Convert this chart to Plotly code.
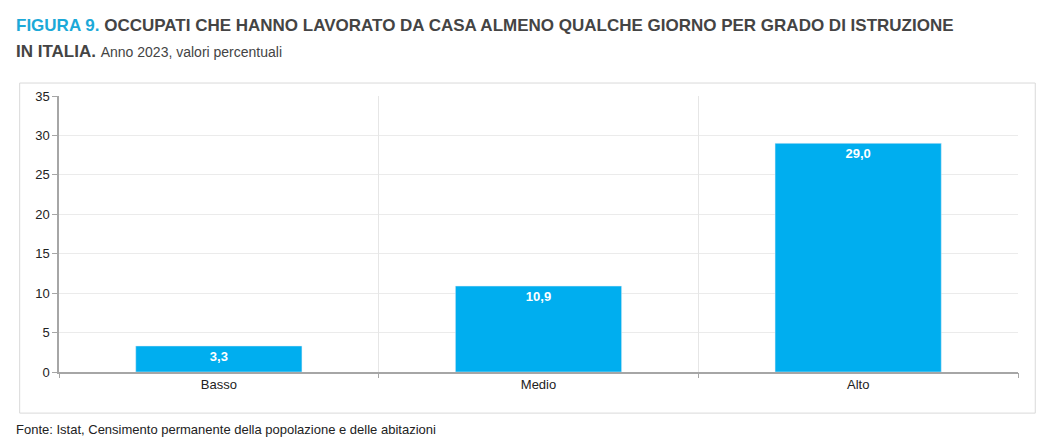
import plotly.graph_objects as go

categories = ["Basso", "Medio", "Alto"]
values = [3.3, 10.9, 29.0]
labels = ["3,3", "10,9", "29,0"]
xpos = [0, 1, 2]

fig = go.Figure()
fig.add_trace(go.Bar(x=xpos, y=values, text=labels, textposition="inside",
                     insidetextanchor="end", marker_color="#00AEEF",
                     texttemplate="<b>%{text}</b>",
                     textfont=dict(color="white", size=13, family="Liberation Sans"),
                     width=0.52, hoverinfo="skip"))
fig.add_trace(go.Scatter(x=[-0.5, 2.5], y=[0, 0], xaxis="x2", mode="markers",
                         marker=dict(opacity=0), hoverinfo="skip", showlegend=False))

fig.update_layout(
    width=1063, height=448, showlegend=False,
    paper_bgcolor="white", plot_bgcolor="white",
    margin=dict(l=51, r=53, t=88, b=84),
    font=dict(family="Liberation Sans", color="#222222", size=12),
    xaxis=dict(range=[-0.5, 2.5], tickvals=xpos, ticktext=categories, showgrid=False,
               showline=True, linecolor="#A6A6A6", linewidth=1.5, ticks="", zeroline=False,
               tickfont=dict(size=13)),
    xaxis2=dict(range=[-0.5, 2.5], overlaying="x", tickvals=[-0.5, 0.5, 1.5, 2.5],
                showticklabels=False, showgrid=True, gridcolor="#E6E6E6",
                ticks="outside", ticklen=5, tickcolor="#A6A6A6", side="bottom",
                zeroline=False),
    yaxis=dict(range=[0, 35], dtick=5, showgrid=True, gridcolor="#EBEBEB",
               showline=True, linecolor="#A6A6A6", linewidth=1.5, ticks="outside",
               ticklen=5, tickcolor="#A6A6A6", zeroline=False, tickfont=dict(size=13)),
    annotations=[
        dict(xref="paper", yref="paper", x=-0.047, y=1.297, xanchor="left", yanchor="top",
             showarrow=False, align="left",
             text="<b><span style='color:#1CA9D8'>FIGURA 9.</span> OCCUPATI CHE HANNO LAVORATO DA CASA ALMENO QUALCHE GIORNO PER GRADO DI ISTRUZIONE</b>",
             font=dict(size=17, color="#444444")),
        dict(xref="paper", yref="paper", x=-0.047, y=1.203, xanchor="left", yanchor="top",
             showarrow=False, align="left",
             text="<b>IN ITALIA.</b> <span style='font-size:14px'>Anno 2023, valori percentuali</span>",
             font=dict(size=17, color="#444444")),
        dict(xref="paper", yref="paper", x=-0.047, y=-0.174, xanchor="left", yanchor="top",
             showarrow=False, text="Fonte: Istat, Censimento permanente della popolazione e delle abitazioni",
             font=dict(size=13, color="#222222")),
    ],
    shapes=[dict(type="rect", xref="paper", yref="paper", x0=-0.041, x1=1.018, y0=-0.149, y1=1.047,
                 line=dict(color="#D9D9D9", width=1), layer="below")],
)
fig.write_html("out.html")
